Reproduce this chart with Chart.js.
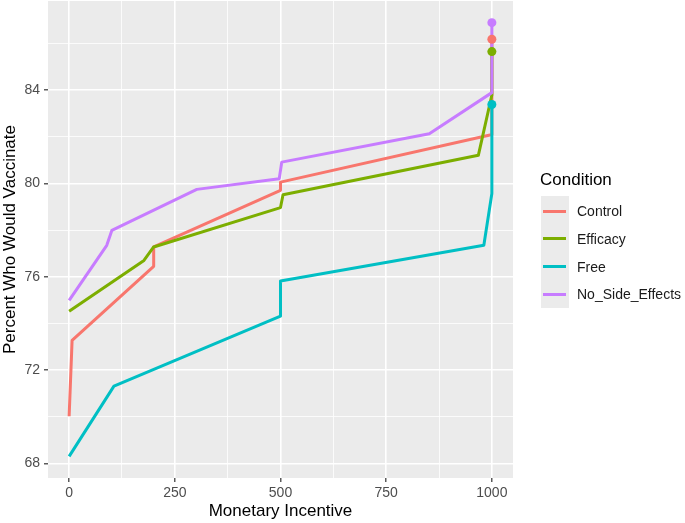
<!DOCTYPE html>
<html>
<head>
<meta charset="utf-8">
<script src="https://cdn.jsdelivr.net/npm/chart.js@4.4.1/dist/chart.umd.min.js"></script>
<style>
  html, body { margin: 0; padding: 0; background: #fff; }
  #wrap { position: relative; width: 685px; height: 523px; font-family: "Liberation Sans", Arial, sans-serif; }
  #chart { position: absolute; left: 0; top: 0; }
  .legend-title { position: absolute; left: 540px; top: 170px; font-size: 17px; line-height: 20px; color: #000; }
  .legend-keys { position: absolute; left: 541px; top: 196px; width: 28px; height: 112px; background: #ebebeb; }
  .legend-line { position: absolute; left: 543px; width: 23px; height: 3px; }
  .legend-item { position: absolute; left: 577px; font-size: 14px; line-height: 18px; color: #1a1a1a; white-space: nowrap; }
</style>
</head>
<body>
<div id="wrap">
  <canvas id="chart" width="685" height="523"></canvas>
  <div id="legend"></div>
</div>
<script>
const seriesNames = ["Control", "Efficacy", "Free", "No_Side_Effects"];
const seriesColors = ["#F8766D", "#7CAE00", "#00BFC4", "#C77CFF"];

// values
const controlX = [0, 7, 200, 200, 500, 500, 993, 1000, 1000];
const controlY = [70.02, 73.27, 76.45, 77.28, 79.71, 80.06, 82.07, 82.1, 86.19];

const efficacyX = [0, 177, 200, 500, 506, 968, 1000, 1000];
const efficacyY = [74.52, 76.7, 77.28, 78.97, 79.52, 81.21, 83.8, 85.66];

const freeX = [0, 106, 500, 500, 981, 1000, 1000];
const freeY = [68.3, 71.31, 74.31, 75.82, 77.35, 79.57, 83.39];

const noSideX = [0, 89, 101, 302, 497, 503, 852, 1000, 1000];
const noSideY = [74.99, 77.35, 77.99, 79.75, 80.21, 80.92, 82.14, 83.9, 86.9];

const xGridValues = [0, 125, 250, 375, 500, 625, 750, 875, 1000];
const xTickLabels = [0, 250, 500, 750, 1000];
const yGridValues = [68, 70, 72, 74, 76, 78, 80, 82, 84, 86];
const yTickLabels = [68, 72, 76, 80, 84];

const seriesX = [controlX, efficacyX, freeX, noSideX];
const seriesY = [controlY, efficacyY, freeY, noSideY];

function toPoints(xs, ys) {
  return xs.map((x, i) => ({ x, y: ys[i] }));
}

const lineDatasets = seriesNames.map((name, i) => ({
  label: name,
  data: toPoints(seriesX[i], seriesY[i]),
  borderColor: seriesColors[i],
  borderWidth: 3,
  borderJoinStyle: "round",
  pointRadius: 0,
  tension: 0,
  order: seriesNames.length - i,
}));

// end markers drawn on top of every line
const pointDatasets = seriesNames.map((name, i) => {
  const last = seriesX[i].length - 1;
  return {
    label: name + " end",
    data: [{ x: seriesX[i][last], y: seriesY[i][last] }],
    showLine: false,
    pointRadius: 4.5,
    pointBackgroundColor: seriesColors[i],
    pointBorderWidth: 0,
    order: 0,
  };
});

const panelBackground = {
  id: "panelBackground",
  beforeDraw(chart) {
    const { ctx, chartArea: a } = chart;
    ctx.save();
    ctx.fillStyle = "#ebebeb";
    ctx.fillRect(a.left, a.top, a.right - a.left, a.bottom - a.top);
    ctx.restore();
  },
};

const tickFont = { family: "'Liberation Sans', Arial, sans-serif", size: 14 };
const titleFont = { family: "'Liberation Sans', Arial, sans-serif", size: 17 };

function isMajor(list, ctx) {
  return ctx.tick && list.includes(ctx.tick.value);
}

new Chart(document.getElementById("chart"), {
  type: "line",
  data: { datasets: [...lineDatasets, ...pointDatasets] },
  options: {
    responsive: false,
    animation: false,
    devicePixelRatio: 1,
    layout: { autoPadding: false, padding: { top: 1, right: 172, bottom: 0, left: 0 } },
    plugins: {
      legend: { display: false },
      tooltip: { enabled: false },
    },
    scales: {
      x: {
        type: "linear",
        min: -50,
        max: 1050,
        afterBuildTicks: (scale) => {
          scale.ticks = xGridValues.map((v) => ({ value: v }));
        },
        afterFit: (scale) => {
          scale.height = 45;
          scale.paddingLeft = 0;
          scale.paddingRight = 0;
        },
        ticks: {
          autoSkip: false,
          maxRotation: 0,
          padding: 3,
          color: "#4d4d4d",
          font: tickFont,
          callback: (v) => (xTickLabels.includes(v) ? String(v) : ""),
        },
        grid: {
          color: "#ffffff",
          lineWidth: (ctx) => (isMajor(xTickLabels, ctx) ? 1.6 : 0.8),
          tickLength: 4,
          tickWidth: 1.2,
          tickColor: (ctx) => (isMajor(xTickLabels, ctx) ? "#333333" : "rgba(0,0,0,0)"),
        },
        border: { display: false },
        title: {
          display: true,
          text: "Monetary Incentive",
          color: "#000",
          font: titleFont,
          padding: { top: 0, bottom: 1 },
        },
      },
      y: {
        type: "linear",
        min: 67.37,
        max: 87.83,
        afterBuildTicks: (scale) => {
          scale.ticks = yGridValues.map((v) => ({ value: v }));
        },
        afterFit: (scale) => {
          scale.width = 48;
          scale.paddingTop = 0;
          scale.paddingBottom = 0;
        },
        ticks: {
          autoSkip: false,
          padding: 4,
          color: "#4d4d4d",
          font: tickFont,
          callback: (v) => (yTickLabels.includes(v) ? String(v) : ""),
        },
        grid: {
          color: "#ffffff",
          lineWidth: (ctx) => (isMajor(yTickLabels, ctx) ? 1.6 : 0.8),
          tickLength: 4,
          tickWidth: 1.2,
          tickColor: (ctx) => (isMajor(yTickLabels, ctx) ? "#333333" : "rgba(0,0,0,0)"),
        },
        border: { display: false },
        title: {
          display: true,
          text: "Percent Who Would Vaccinate",
          color: "#000",
          font: titleFont,
          padding: { top: 0, bottom: 0 },
        },
      },
    },
  },
  plugins: [panelBackground],
});

// legend in ggplot style
const legendEl = document.getElementById("legend");
let legendHtml = '<div class="legend-title">Condition</div><div class="legend-keys"></div>';
seriesNames.forEach((name, i) => {
  const cy = 211 + i * 27.8;
  legendHtml += `<div class="legend-line" style="top:${cy - 1.5}px;background:${seriesColors[i]}"></div>`;
  legendHtml += `<div class="legend-item" style="top:${cy - 9}px">${name}</div>`;
});
legendEl.innerHTML = legendHtml;
</script>
</body>
</html>
